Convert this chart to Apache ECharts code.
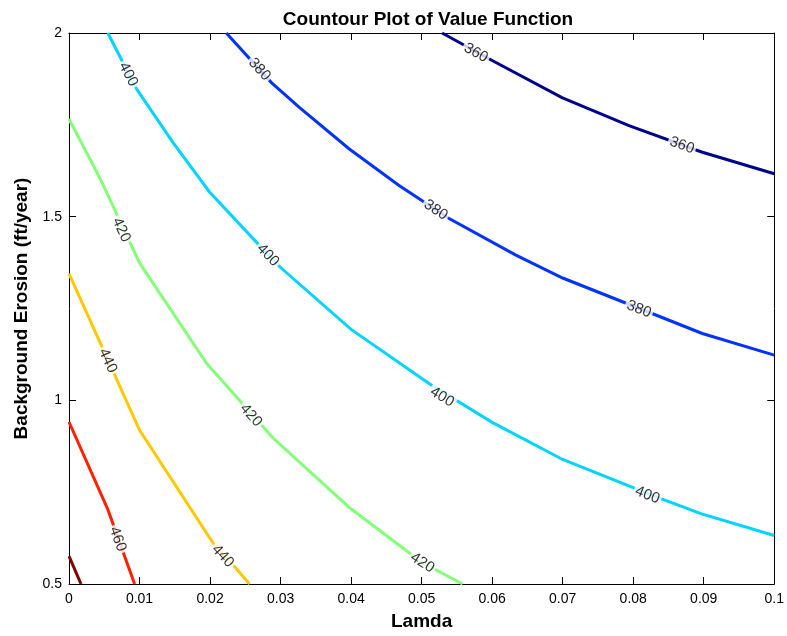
<!DOCTYPE html>
<html>
<head>
<meta charset="utf-8">
<script src="https://cdn.jsdelivr.net/npm/echarts@6/dist/echarts.min.js"></script>
<style>html,body{margin:0;padding:0;background:#fff;}#c{width:787px;height:636px;}</style>
</head>
<body>
<div id="c"></div>
<script>
// ---- data ----
const xTickLabels = ['0','0.01','0.02','0.03','0.04','0.05','0.06','0.07','0.08','0.09','0.1'];
const yTickLabels = ['0.5','1','1.5','2'];

const levels = [360, 380, 400, 420, 440, 460, 480];

const contour360 = [[0.0529,2.0],[0.0600,1.925],[0.0699,1.824],[0.0794,1.748],[0.0897,1.676],[0.1,1.617]];
const contour380 = [[0.0223,2.0],[0.0287,1.865],[0.0327,1.797],[0.0397,1.685],[0.0468,1.585],[0.0539,1.495],[0.0633,1.396],[0.0700,1.333],[0.0898,1.182],[0.1,1.123]];
const contour400 = [[0.0055,2.0],[0.0096,1.847],[0.0147,1.703],[0.0199,1.568],[0.0265,1.432],[0.0298,1.365],[0.0400,1.193],[0.0511,1.045],[0.0600,0.940],[0.0700,0.839],[0.0841,0.731],[0.0897,0.691],[0.1,0.632]];
const contour420 = [[0,1.766],[0.0044,1.604],[0.0100,1.374],[0.0195,1.101],[0.0289,0.898],[0.0397,0.709],[0.0501,0.558],[0.0558,0.5]];
const contour440 = [[0,1.345],[0.0100,0.919],[0.0204,0.612],[0.0234,0.549],[0.0256,0.5]];
const contour460 = [[0,0.941],[0.0055,0.703],[0.0093,0.5]];
const contour480 = [[0,0.576],[0.0017,0.5]];

const labels360 = [[0.0577,1.946],[0.0869,1.694]];
const labels380 = [[0.0270,1.901],[0.0520,1.518],[0.0808,1.248]];
const labels400 = [[0.0084,1.887],[0.0282,1.395],[0.0529,1.009],[0.0820,0.742]];
const labels420 = [[0.0074,1.464],[0.0258,0.959],[0.0501,0.558]];
const labels440 = [[0.0055,1.108],[0.0218,0.576]];
const labels460 = [[0.0069,0.622]];
const labels480 = [];

const contours = [contour360, contour380, contour400, contour420, contour440, contour460, contour480];
const labelSets = [labels360, labels380, labels400, labels420, labels440, labels460, labels480];
const colors = ['#00008f', '#0033ff', '#00d4ff', '#84ff7a', '#ffc800', '#ff2200', '#800000'];

const FONT = '"Liberation Sans", Arial, Helvetica, sans-serif';

const chart = echarts.init(document.getElementById('c'), null, {renderer: 'canvas'});

function axisCommon() {
  return {
    axisLine: {show: true, onZero: false, lineStyle: {color: '#000', width: 1}},
    axisTick: {show: true, inside: true, length: 7, lineStyle: {color: '#000', width: 1}},
    splitLine: {show: false}
  };
}

function lineSeries() {
  return contours.map((c, i) => ({
    type: 'line',
    name: String(levels[i]),
    data: c,
    xAxisIndex: 0, yAxisIndex: 0,
    showSymbol: false, symbol: 'none',
    smooth: false,
    clip: true,
    lineStyle: {color: colors[i], width: 3, cap: 'butt', join: 'miter'},
    silent: true,
    z: 2
  }));
}

function labelSeries(rotations) {
  const out = [];
  labelSets.forEach((set, i) => {
    if (!set.length) return;
    out.push({
      type: 'scatter',
      xAxisIndex: 0, yAxisIndex: 0,
      symbol: 'circle', symbolSize: 1,
      itemStyle: {color: 'rgba(0,0,0,0)'},
      silent: true,
      z: 5,
      data: set.map((p, j) => ({
        value: p,
        label: {rotate: rotations ? rotations[i][j] : 0}
      })),
      label: {
        show: true, position: 'inside',
        formatter: String(levels[i]),
        color: '#000', fontSize: 15, fontFamily: FONT,
        backgroundColor: '#fff', padding: [0, 2]
      },
      emphasis: {disabled: true}
    });
  });
  return out;
}

const option = {
  animation: false,
  backgroundColor: '#fff',
  title: {
    text: 'Countour Plot of Value Function',
    left: 423, top: 5, textAlign: 'center',
    textStyle: {fontSize: 19, fontWeight: 'bold', color: '#000', fontFamily: FONT}
  },
  grid: {left: 69, right: 11, top: 33, bottom: 48, containLabel: false},
  xAxis: [
    Object.assign(axisCommon(), {
      type: 'value', min: 0, max: 0.1, interval: 0.01, position: 'bottom',
      axisLabel: {show: true, margin: 8, fontSize: 14, color: '#000', fontFamily: FONT,
        formatter: v => xTickLabels[Math.round(v / 0.01)]},
      name: 'Lamda', nameLocation: 'middle', nameGap: 28,
      nameTextStyle: {fontSize: 19, fontWeight: 'bold', color: '#000', fontFamily: FONT}
    }),
    Object.assign(axisCommon(), {
      type: 'value', min: 0, max: 0.1, interval: 0.01, position: 'top',
      axisLabel: {show: false}
    })
  ],
  yAxis: [
    Object.assign(axisCommon(), {
      type: 'value', min: 0.5, max: 2, interval: 0.5, position: 'left',
      axisLabel: {show: true, margin: 7, fontSize: 14, color: '#000', fontFamily: FONT,
        formatter: v => yTickLabels[Math.round((v - 0.5) / 0.5)]},
      name: 'Background Erosion (ft/year)', nameLocation: 'middle', nameGap: 36,
      nameTextStyle: {fontSize: 19, fontWeight: 'bold', color: '#000', fontFamily: FONT}
    }),
    Object.assign(axisCommon(), {
      type: 'value', min: 0.5, max: 2, interval: 0.5, position: 'right',
      axisLabel: {show: false}
    })
  ],
  series: lineSeries().concat(labelSeries(null))
};

chart.setOption(option);

// rotate each contour label to follow its line, measured in pixel space
function px(p) { return chart.convertToPixel({xAxisIndex: 0, yAxisIndex: 0}, p); }
const rotations = labelSets.map((set, i) => {
  const pts = contours[i].map(px);
  const dense = [];
  for (let k = 0; k < pts.length - 1; k++) {
    const a = pts[k], b = pts[k + 1];
    const len = Math.hypot(b[0] - a[0], b[1] - a[1]);
    const n = Math.max(1, Math.ceil(len));
    for (let s = 0; s < n; s++) dense.push([a[0] + (b[0] - a[0]) * s / n, a[1] + (b[1] - a[1]) * s / n]);
  }
  dense.push(pts[pts.length - 1]);
  return set.map(lp => {
    const q = px(lp);
    let best = 0, bd = Infinity;
    dense.forEach((d, idx) => {
      const dd = Math.hypot(d[0] - q[0], d[1] - q[1]);
      if (dd < bd) { bd = dd; best = idx; }
    });
    const a = dense[Math.max(0, best - 12)], b = dense[Math.min(dense.length - 1, best + 12)];
    const ang = Math.atan2(b[1] - a[1], b[0] - a[0]) * 180 / Math.PI;
    return -ang;
  });
});
chart.setOption({series: lineSeries().concat(labelSeries(rotations))}, {replaceMerge: ['series']});
</script>
</body>
</html>
